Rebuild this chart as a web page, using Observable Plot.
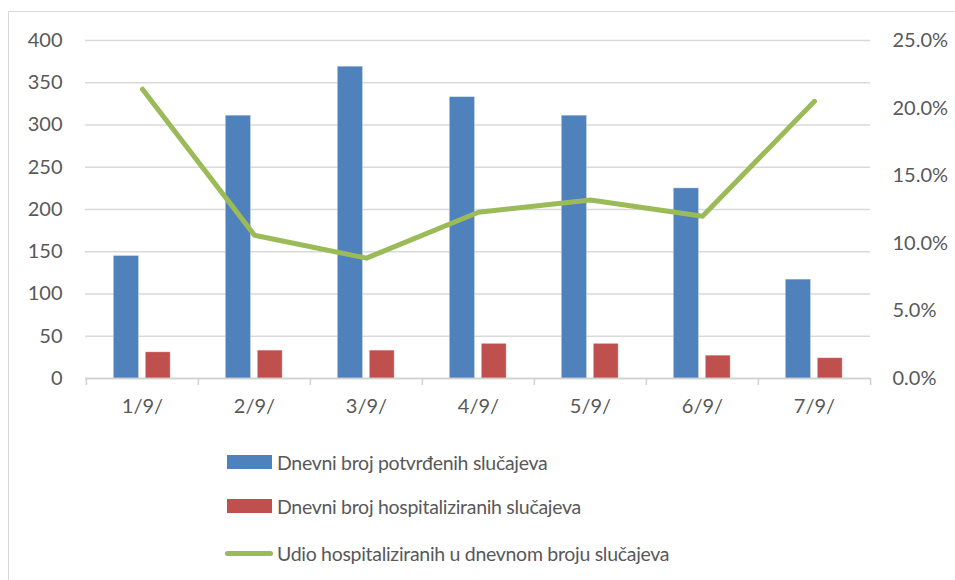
<!DOCTYPE html>
<html>
<head>
<meta charset="utf-8">
<script src="https://cdn.jsdelivr.net/npm/d3@7"></script>
<script src="https://cdn.jsdelivr.net/npm/@observablehq/plot@0.6"></script>
<style>
  html, body { margin: 0; padding: 0; background: #fff; }
  #wrap { position: relative; width: 955px; height: 580px; overflow: hidden; font-family: Lato, "Open Sans", sans-serif; color: #595959; }
  #frame { position: absolute; left: 8px; top: 11px; width: 960px; height: 600px; border-top: 1.5px solid #d9d9d9; border-left: 1.5px solid #d9d9d9; box-sizing: border-box; }
  #chart { position: absolute; left: 0; top: 0; }
  .leg { position: absolute; left: 225px; display: flex; align-items: center; font-size: 19.5px; letter-spacing: -0.3px; color: #595959; white-space: nowrap; }
  .sw { width: 45px; height: 14px; margin-right: 5px; margin-left: 2px; }
  .ln { width: 48px; height: 5px; border-radius: 3px; margin-right: 4px; }
</style>
</head>
<body>
<div id="wrap">
  <div id="frame"></div>
  <div id="chart"></div>
  <div id="legend"></div>
</div>
<script>
const dates = ["1/9/", "2/9/", "3/9/", "4/9/", "5/9/", "6/9/", "7/9/"];
const confirmed = [145, 311, 369, 333, 311, 225, 117];
const hospitalized = [31, 33, 33, 41, 41, 27, 24];
const sharePct = [21.4, 10.6, 8.9, 12.3, 13.2, 12.0, 20.5];
const leftTicks = [0, 50, 100, 150, 200, 250, 300, 350, 400];
const rightTickLabels = ["0.0%", "5.0%", "10.0%", "15.0%", "20.0%", "25.0%"];
const seriesNames = [
  "Dnevni broj potvrđenih slučajeva",
  "Dnevni broj hospitaliziranih slučajeva",
  "Udio hospitaliziranih u dnevnom broju slučajeva"
];
const colors = ["#4f81bd", "#c0504d", "#9bbb59"];

const yMax = 400, pctMax = 25;
const toLeft = p => p * yMax / pctMax;
const rightTicks = rightTickLabels.map((_, i) => i * yMax / (rightTickLabels.length - 1));

const data = dates.map((d, i) => ({date: d, confirmed: confirmed[i], hospitalized: hospitalized[i], share: sharePct[i]}));

const W = 955, H = 430, mL = 85, mR = 85, mT = 40, mB = 52;
const bw = (W - mL - mR) / dates.length;

const plot = Plot.plot({
  width: W, height: H,
  marginLeft: mL, marginRight: mR, marginTop: mT, marginBottom: mB,
  style: {fontFamily: "Lato, 'Open Sans', sans-serif", fontSize: "20px", color: "#595959", background: "transparent", overflow: "visible"},
  x: {domain: dates, padding: 0, axis: null},
  y: {domain: [0, yMax], axis: null},
  marks: [
    Plot.gridY(leftTicks, {stroke: "#d9d9d9", strokeOpacity: 1, strokeWidth: 1.3}),
    Plot.axisY({ticks: leftTicks, tickSize: 0, tickPadding: 23, fontSize: 20, fill: "#595959", label: null}),
    Plot.axisY({ticks: rightTicks, anchor: "right", tickSize: 0, tickPadding: 22, fontSize: 20, fill: "#595959", label: null,
      tickFormat: (d, i) => rightTickLabels[i]}),
    Plot.barY(data, {x: "date", y: "confirmed", fill: colors[0], stroke: "#ffffff", strokeOpacity: 0.4, strokeWidth: 0.8, insetLeft: 27.3, insetRight: bw - 52.7}),
    Plot.barY(data, {x: "date", y: "hospitalized", fill: colors[1], stroke: "#ffffff", strokeOpacity: 0.4, strokeWidth: 0.8, insetLeft: 59.3, insetRight: bw - 84.3}),
    Plot.ruleY([0], {stroke: "#d0d0d0", strokeWidth: 1.5}),
    Plot.ruleX(dates, {x: d => d, dx: -bw / 2, y1: 0, y2: 0, insetBottom: -7, stroke: "#d0d0d0", strokeWidth: 1.5}),
    Plot.ruleX([dates[dates.length - 1]], {x: d => d, dx: bw / 2, y1: 0, y2: 0, insetBottom: -7, stroke: "#d0d0d0", strokeWidth: 1.5}),
    Plot.line(data, {x: "date", y: d => toLeft(d.share), stroke: colors[2], strokeWidth: 5, strokeLinejoin: "round", strokeLinecap: "round"}),
    Plot.axisX({tickSize: 0, tickPadding: 20, fontSize: 20, fill: "#595959", label: null})
  ]
});
document.getElementById("chart").appendChild(plot);

const legend = document.getElementById("legend");
const rowCenters = [462, 506, 553];
seriesNames.forEach((name, i) => {
  const row = document.createElement("div");
  row.className = "leg";
  row.style.top = (rowCenters[i] - 14) + "px";
  row.style.height = "28px";
  const sw = document.createElement("div");
  sw.className = i < 2 ? "sw" : "ln";
  sw.style.background = colors[i];
  const tx = document.createElement("span");
  tx.textContent = name;
  row.appendChild(sw);
  row.appendChild(tx);
  legend.appendChild(row);
});
</script>
</body>
</html>
